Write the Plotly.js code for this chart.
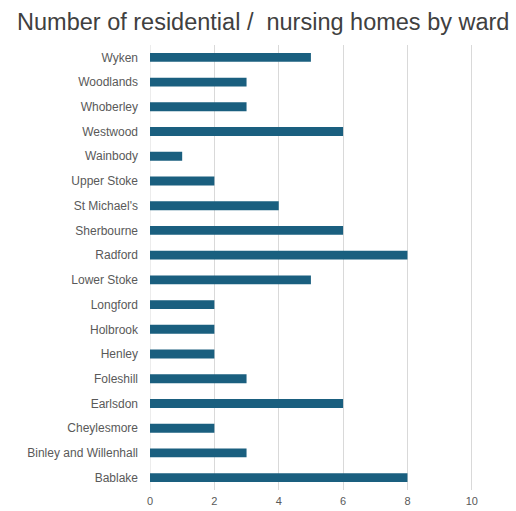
<!DOCTYPE html>
<html>
<head>
<meta charset="utf-8">
<script src="https://cdn.plot.ly/plotly-3.0.1.min.js"></script>
<style>html,body{margin:0;padding:0;background:#fff;}#chart{width:516px;height:511px;}</style>
</head>
<body>
<div id="chart"></div>
<script>
const wards = ["Bablake","Binley and Willenhall","Cheylesmore","Earlsdon","Foleshill","Henley","Holbrook","Longford","Lower Stoke","Radford","Sherbourne","St Michael's","Upper Stoke","Wainbody","Westwood","Whoberley","Woodlands","Wyken"];
const homes = [8,3,2,6,3,2,2,2,5,8,6,4,2,1,6,3,3,5];
const xTicks = [0,2,4,6,8,10];

Plotly.newPlot('chart', [{
  type: 'bar',
  orientation: 'h',
  y: wards,
  x: homes,
  marker: {color: '#1a5f7f'},
  hoverinfo: 'x+y'
}], {
  width: 516, height: 511,
  margin: {l: 150, r: 12, t: 45, b: 21},
  paper_bgcolor: '#fff', plot_bgcolor: '#fff',
  bargap: 0.64,
  showlegend: false,
  title: {text: 'Number of residential / \u00a0nursing homes by ward', x: 0.033, xanchor: 'left', y: 0.957, yanchor: 'middle',
          font: {family: 'Liberation Sans, Arial, sans-serif', size: 23.5, color: '#404040'}},
  xaxis: {range: [0, 11], tickvals: xTicks, ticktext: xTicks.map(String), showgrid: true, gridcolor: '#d9d9d9', gridwidth: 1,
          zeroline: false, showline: false, ticks: '', ticklabelstandoff: 3, tickfont: {family: 'Liberation Sans, Arial, sans-serif', size: 11, color: '#595959'}},
  yaxis: {type: 'category', categoryorder: 'array', categoryarray: wards, showgrid: false, zeroline: false, showline: false,
          ticks: '', ticklabelstandoff: 11, tickfont: {family: 'Liberation Sans, Arial, sans-serif', size: 12, color: '#595959'}},
  shapes: [{type: 'line', xref: 'x', yref: 'paper', x0: 0, x1: 0, y0: 0, y1: 1, line: {color: '#d9d9d9', width: 1}, layer: 'below'}]
}, {displayModeBar: false, staticPlot: true});
</script>
</body>
</html>
